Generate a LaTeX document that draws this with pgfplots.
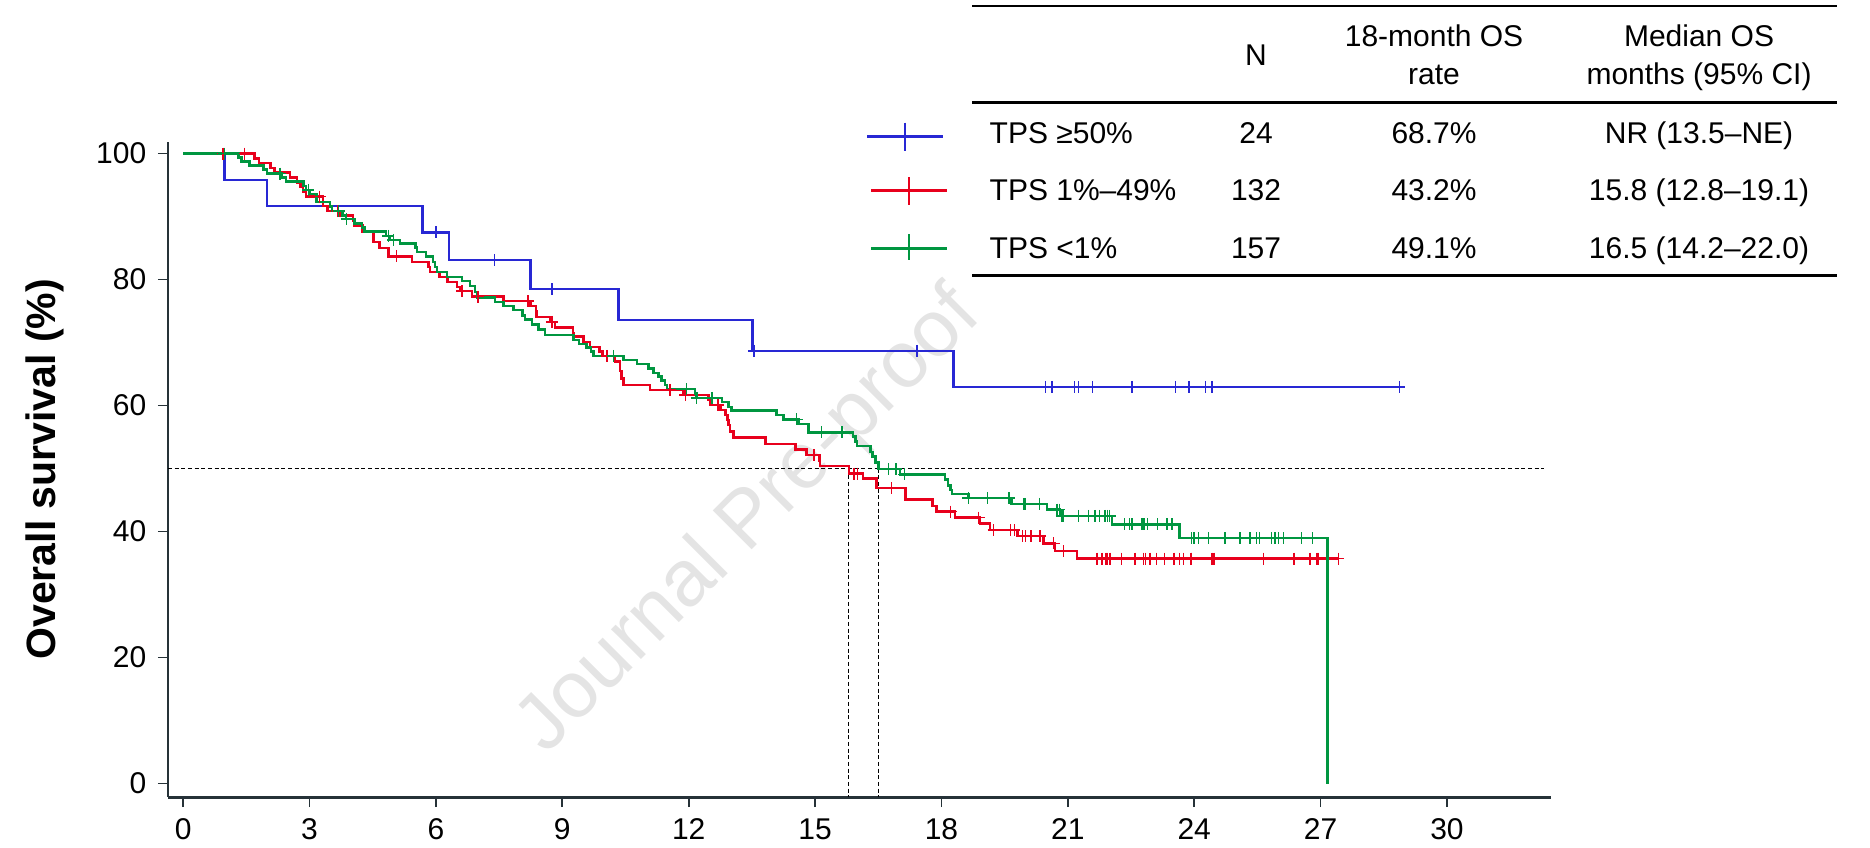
\documentclass[border=0pt]{standalone}
\usepackage{fontspec}
\setmainfont{Liberation Sans}
\usepackage{pgfplots}
\pgfplotsset{compat=1.18}
\definecolor{kmblue}{RGB}{40,40,212}
\definecolor{kmred}{RGB}{232,0,28}
\definecolor{kmgreen}{RGB}{0,150,64}
\definecolor{axc}{RGB}{38,50,56}
\definecolor{wm}{RGB}{228,228,228}
\begin{document}
\begin{tikzpicture}
\begin{scope}[x=0.3pt,y=-0.3pt]
\node[rotate=45, text=wm, font=\fontsize{24}{24}\selectfont] at (750,522) {Journal Pre-proof};
\end{scope}
\begin{axis}[
 at={(50.4pt,-239.1pt)}, anchor=south west, scale only axis,
 width=414.9pt, height=196.6pt,
 xmin=-0.36, xmax=32.47, ymin=-2.14, ymax=101.9,
 axis x line=bottom, axis y line=left,
 x axis line style={-, draw=axc, line width=0.9pt},
 y axis line style={-, draw=axc, line width=0.6pt},
 xtick={0,3,...,30}, ytick={0,20,...,100},
 tick align=outside, major tick length=3pt,
 tick style={draw=axc, line width=0.5pt},
 ticklabel style={font=\fontsize{9}{10}\selectfont},
 /pgf/number format/assume math mode=true,
 ylabel={Overall survival (\%)},
 ylabel style={at={(axis description cs:-0.0889,0.5)}, anchor=center, font=\fontsize{12.3}{14}\selectfont\bfseries},
 clip=false,
 censor/.style={only marks, mark=+, mark size=1.8pt, mark options={line width=0.45pt}},
]
% reference lines
\addplot[black, line width=0.35pt, dash pattern=on 1.2pt off 0.8pt] coordinates {(-0.36,50) (32.3,50)};
\addplot[black, line width=0.35pt, dash pattern=on 1.2pt off 0.8pt] coordinates {(15.8,50) (15.8,-2.14)};
\addplot[black, line width=0.35pt, dash pattern=on 1.2pt off 0.8pt] coordinates {(16.5,50) (16.5,-2.14)};
% TPS >=50%
\addplot[const plot, kmblue, line width=0.75pt] coordinates {
(0,100) (0.98,95.83) (1.99,91.67) (5.68,87.5) (6.31,83.13) (8.24,78.51) (10.33,73.6) (13.52,68.7) (18.29,62.97) (28.87,62.97)};
\addplot[censor, kmblue] coordinates {
(6.0,87.5) (7.39,83.13) (8.75,78.51) (13.55,68.7) (17.42,68.7) (20.47,62.97) (20.62,62.97) (21.16,62.97) (21.25,62.97) (21.58,62.97) (22.52,62.97) (23.56,62.97) (23.88,62.97) (24.27,62.97) (24.42,62.97) (28.87,62.97)};
% TPS 1-49%
\addplot[const plot, kmred, line width=0.75pt] coordinates {
(0,100) (1.69,99.24) (1.80,98.48) (2.07,97.73) (2.17,96.97) (2.54,96.21) (2.70,95.45) (2.79,94.70) (2.84,93.94) (2.92,93.18)
(3.32,91.67) (3.43,90.91) (3.73,90.15) (4.03,89.39) (4.06,88.63) (4.26,87.6) (4.52,86.0) (4.66,85.0) (4.87,83.7) (5.43,82.8)
(5.82,82.0) (5.86,81.2) (6.08,80.45) (6.27,79.66) (6.50,78.86) (6.58,78.17) (6.86,77.3) (7.60,76.59) (8.24,75.79) (8.37,74.9)
(8.39,74.1) (8.71,73.3) (8.83,72.4) (9.25,71.46) (9.27,70.93) (9.50,70.13) (9.66,69.34) (9.88,68.55) (9.95,67.9) (10.25,67.0)
(10.37,65.5) (10.41,64.3) (10.45,63.3) (11.08,62.5) (11.88,61.7) (12.47,60.9) (12.52,60.1) (12.75,59.3) (12.87,58.5) (12.92,57.7)
(12.95,56.9) (12.98,55.9) (13.06,54.95) (13.82,53.9) (14.53,53.05) (14.80,52.15) (15.10,51.3) (15.12,50.4) (15.81,49.2) (16.14,48.4)
(16.46,46.9) (17.15,45.1) (17.79,44.05) (17.88,43.15) (18.32,42.2) (18.92,41.3) (19.15,40.24) (19.81,39.29) (20.42,38.12) (20.70,36.9)
(21.22,35.7) (27.42,35.7)};
\addplot[censor, kmred] coordinates {
(0.94,100) (1.46,100) (3.24,93.18) (3.67,90.91) (5.07,83.7) (6.62,78.17) (7.00,77.3) (8.19,76.59) (8.75,73.3) (10.06,67.9)
(11.56,62.5) (11.92,61.7) (12.69,60.1) (14.97,52.15) (15.92,49.2) (16.01,49.2) (16.81,46.9) (18.22,43.15) (18.88,42.2) (19.24,40.24)
(19.64,40.24) (19.73,40.24) (19.92,39.29) (20.00,39.29) (20.12,39.29) (20.34,39.29) (20.66,38.12) (20.90,36.9)
(21.69,35.7) (21.81,35.7) (21.91,35.7) (21.94,35.7) (22.00,35.7) (22.27,35.7) (22.60,35.7) (22.80,35.7) (22.84,35.7) (22.95,35.7)
(23.11,35.7) (23.30,35.7) (23.52,35.7) (23.65,35.7) (23.74,35.7) (23.92,35.7) (23.94,35.7) (24.42,35.7) (24.47,35.7) (25.64,35.7)
(26.37,35.7) (26.75,35.7) (26.91,35.7) (26.95,35.7) (27.42,35.7)};
% TPS <1%
\addplot[const plot, kmgreen, line width=0.75pt] coordinates {
(0,100) (1.31,99.36) (1.39,98.73) (1.57,98.09) (1.91,97.45) (1.99,96.82) (2.34,96.18) (2.44,95.54) (2.86,94.9) (2.92,94.26)
(3.01,93.6) (3.16,92.3) (3.49,91.6) (3.53,90.9) (3.78,90.2) (3.86,89.6) (4.07,88.9) (4.24,88.3) (4.30,87.6) (4.82,86.95)
(4.91,86.3) (5.15,85.7) (5.51,85.1) (5.55,84.4) (5.77,83.7) (5.93,82.8) (5.98,82.0) (6.02,81.24) (6.26,80.45) (6.62,79.76)
(6.81,79.02) (6.93,78.0) (6.99,77.17) (7.40,76.48) (7.60,75.79) (7.84,75.16) (8.06,74.3) (8.12,73.7) (8.28,72.9) (8.43,72.1)
(8.59,71.2) (9.26,70.4) (9.40,69.8) (9.58,69.2) (9.68,68.6) (9.74,67.9) (10.45,67.2) (10.77,66.6) (11.05,65.9) (11.16,65.2)
(11.28,64.6) (11.36,64.0) (11.44,63.3) (11.48,62.6) (12.15,61.9) (12.19,61.24) (12.79,60.6) (12.94,59.8) (13.02,59.2) (14.09,58.5)
(14.25,57.8) (14.61,57.1) (14.84,55.74) (15.90,55.1) (15.96,54.3) (16.00,53.6) (16.31,52.6) (16.36,51.9) (16.43,51.0) (16.50,49.9)
(17.02,49.07) (18.08,48.3) (18.15,47.3) (18.21,46.6) (18.25,46.0) (18.64,45.3) (19.66,44.4) (20.50,43.5) (20.82,42.5) (22.05,41.15)
(23.65,38.98) (27.16,0)};
\addplot[censor, kmgreen] coordinates {
(0.98,100) (2.30,96.82) (2.97,94.26) (3.69,90.9) (3.88,89.6) (4.87,86.95) (4.99,86.3) (10.21,67.9) (11.95,62.6) (12.19,61.24)
(12.55,61.24) (14.56,57.8) (15.15,55.74) (15.64,55.74) (16.74,49.9) (16.92,49.9) (17.12,49.07) (18.64,45.3) (19.09,45.3) (19.60,45.3)
(19.96,44.4) (20.00,44.4) (20.33,44.4) (20.74,43.5) (20.80,43.5) (20.86,42.5) (20.90,42.5) (21.25,42.5) (21.49,42.5) (21.65,42.5)
(21.75,42.5) (21.88,42.5) (21.94,42.5) (21.99,42.5) (22.34,41.15) (22.46,41.15) (22.52,41.15) (22.76,41.15) (22.81,41.15) (22.89,41.15)
(23.13,41.15) (23.35,41.15) (23.47,41.15) (23.94,38.98) (24.00,38.98) (24.10,38.98) (24.34,38.98) (24.73,38.98) (25.09,38.98) (25.33,38.98)
(25.48,38.98) (25.55,38.98) (25.84,38.98) (25.92,38.98) (26.00,38.98) (26.12,38.98) (26.55,38.98) (26.81,38.98)};
\end{axis}
\begin{scope}[x=0.3pt,y=-0.3pt, font=\fontsize{9}{10}\selectfont]
\draw[line width=0.8pt] (972,6) -- (1837,6);
\draw[line width=0.8pt] (972,102.7) -- (1837,102.7);
\draw[line width=0.8pt] (972,275.3) -- (1837,275.3);
\node[anchor=base] at (1256,66) {N};
\node[anchor=base] at (1434,46.7) {18-month OS};
\node[anchor=base] at (1434,85) {rate};
\node[anchor=base] at (1699,46.7) {Median OS};
\node[anchor=base] at (1699,85) {months (95\% CI)};
\node[anchor=base west, inner sep=0pt] at (989,143.3) {TPS ≥50\%};
\node[anchor=base west, inner sep=0pt] at (989,200.7) {TPS 1\%–49\%};
\node[anchor=base west, inner sep=0pt] at (989,258.3) {TPS <1\%};
\node[anchor=base] at (1256,143.3) {24};
\node[anchor=base] at (1256,200.7) {132};
\node[anchor=base] at (1256,258.3) {157};
\node[anchor=base] at (1434,143.3) {68.7\%};
\node[anchor=base] at (1434,200.7) {43.2\%};
\node[anchor=base] at (1434,258.3) {49.1\%};
\node[anchor=base] at (1699,143.3) {NR (13.5–NE)};
\node[anchor=base] at (1699,200.7) {15.8 (12.8–19.1)};
\node[anchor=base] at (1699,258.3) {16.5 (14.2–22.0)};
\draw[kmblue, line width=0.9pt] (867,136.7) -- (943,136.7);
\draw[kmblue, line width=0.8pt] (905,122.7) -- (905,150.7);
\draw[kmred, line width=0.9pt] (871,190.7) -- (947,190.7);
\draw[kmred, line width=0.8pt] (909,177.3) -- (909,205);
\draw[kmgreen, line width=0.9pt] (871,248.3) -- (947,248.3);
\draw[kmgreen, line width=0.8pt] (909,234.3) -- (909,260);
\end{scope}
\pgfresetboundingbox
\path[use as bounding box] (0pt,0pt) rectangle (561pt,-254.1pt);
\end{tikzpicture}
\end{document}
